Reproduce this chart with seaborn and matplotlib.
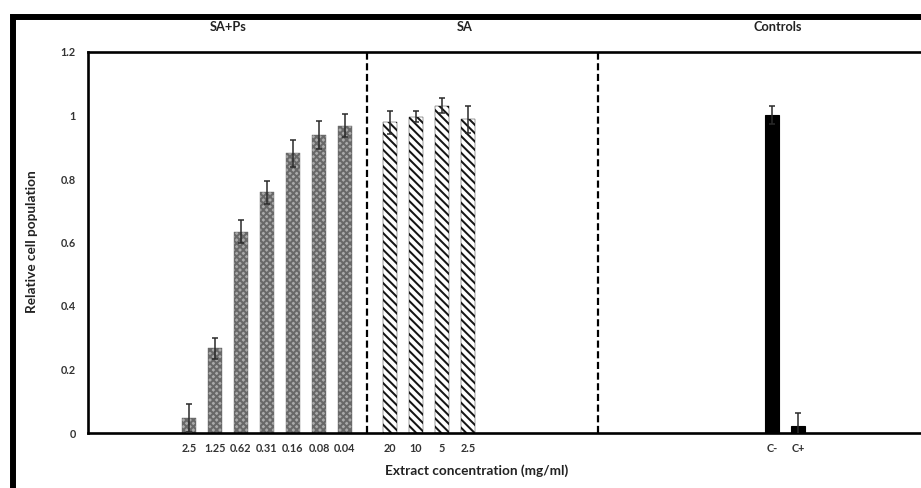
import numpy as np
import pandas as pd
import matplotlib
matplotlib.use("Agg")
import matplotlib.pyplot as plt
from matplotlib.lines import Line2D
import seaborn as sns

# ---- data ----
sa_ps_labels = ["2.5", "1.25", "0.62", "0.31", "0.16", "0.08", "0.04"]
sa_ps_values = [0.047, 0.267, 0.634, 0.758, 0.881, 0.939, 0.968]
sa_ps_errors = [0.044, 0.033, 0.037, 0.036, 0.042, 0.045, 0.037]

sa_labels = ["20", "10", "5", "2.5"]
sa_values = [0.978, 0.996, 1.031, 0.988]
sa_errors = [0.035, 0.018, 0.023, 0.042]

ctrl_labels = ["C-", "C+"]
ctrl_values = [1.002, 0.023]
ctrl_errors = [0.029, 0.039]

section_titles = ["SA+Ps", "SA", "Controls"]
y_ticks = [0, 0.2, 0.4, 0.6, 0.8, 1, 1.2]
y_tick_labels = ["0", "0.2", "0.4", "0.6", "0.8", "1", "1.2"]
x_title = "Extract concentration (mg/ml)"
y_title = "Relative cell population"

# ---- layout constants (slot units) ----
group_starts = [0.0, 7.73, 22.42]
separators = [6.85, 15.73]
x_limits = (-3.885, 29.58)

sns.set_theme(style="white")
plt.rcParams["font.family"] = ["Lato", "DejaVu Sans"]
plt.rcParams["hatch.linewidth"] = 1.45

fig = plt.figure(figsize=(9.21, 4.88), dpi=100)
ax = fig.add_axes([88 / 921, 55 / 488, 870 / 921, 381 / 488])

groups = [
    (sa_ps_labels, sa_ps_values, sa_ps_errors,
     dict(color="#aaaaaa", hatch="xxxxx", edgecolor="#686868", linewidth=0.3)),
    (sa_labels, sa_values, sa_errors,
     dict(color="white", hatch="\\\\\\\\", edgecolor="#151515", linewidth=0.3)),
    (ctrl_labels, ctrl_values, ctrl_errors,
     dict(color="black", edgecolor="black", linewidth=0.8)),
]

all_pos, all_labels = [], []
for (labels, values, errors, style), start in zip(groups, group_starts):
    pos = start + np.arange(len(values))
    df = pd.DataFrame({"x": pos, "y": values})
    sns.barplot(data=df, x="x", y="y", native_scale=True, width=0.52,
                errorbar=None, saturation=1, ax=ax, **style)
    ax.errorbar(pos, values, yerr=errors, fmt="none", ecolor="#2a2a2a",
                elinewidth=1.1, capsize=2.2, capthick=1.1, zorder=5)
    all_pos.extend(pos)
    all_labels.extend(labels)

for s in separators:
    ax.axvline(s, color="black", linestyle=(0, (3.2, 1.6)), linewidth=1.6, zorder=4)

ax.set_xlim(*x_limits)
ax.set_ylim(0, 1.2)
ax.set_yticks(y_ticks)
ax.set_yticklabels(y_tick_labels)
ax.set_xticks(all_pos)
ax.set_xticklabels(all_labels)
ax.set_xlabel("")
ax.set_ylabel("")
ax.tick_params(axis="both", length=0, labelsize=7.8, colors="#333333")
ax.tick_params(axis="y", pad=9)
ax.tick_params(axis="x", pad=7)
for lab in ax.get_xticklabels() + ax.get_yticklabels():
    lab.set_fontweight("bold")

for side in ["left", "bottom", "top", "right"]:
    ax.spines[side].set_visible(True)
    ax.spines[side].set_color("black")
    ax.spines[side].set_linewidth(1.9)
ax.set_facecolor("white")

# section titles
for title, xpx in zip(section_titles, [228, 465, 778]):
    fig.text(xpx / 921, 1 - 27 / 488, title, ha="center", va="center",
             fontsize=9.2, fontweight="bold", color="#222222")

fig.text(477 / 921, 1 - 471 / 488, x_title, ha="center", va="center",
         fontsize=9.8, fontweight="bold", color="#222222")
fig.text(32 / 921, 1 - 242 / 488, y_title, ha="center", va="center",
         rotation=90, fontsize=9.8, fontweight="bold", color="#222222")

# outer black frame (left and top), one polyline with a mitred corner
fx = 12.5 / 921
fy = 1 - 16.5 / 488
fig.add_artist(Line2D([fx, fx, 1.01], [-0.01, fy, fy], transform=fig.transFigure,
                      color="black", linewidth=4.3, solid_joinstyle="miter",
                      solid_capstyle="butt"))

fig.savefig("out.png", dpi=100, facecolor="white")
